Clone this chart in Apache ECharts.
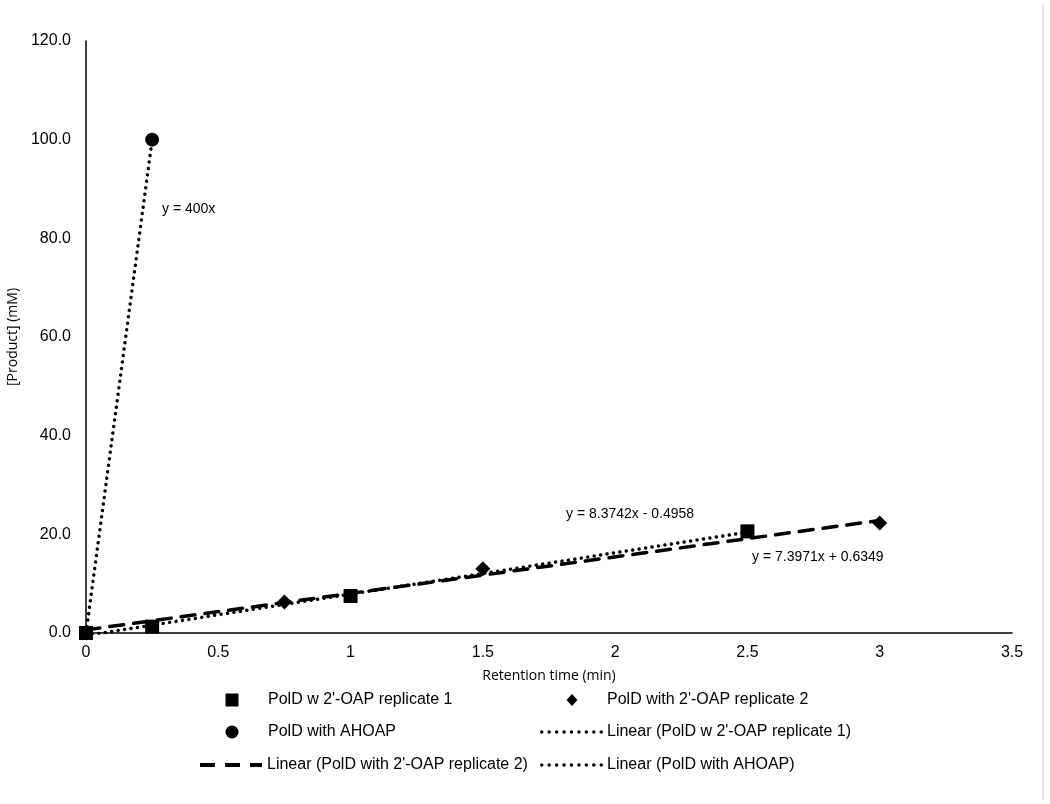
<!DOCTYPE html>
<html>
<head>
<meta charset="utf-8">
<script src="https://cdn.jsdelivr.net/npm/echarts@6/dist/echarts.min.js"></script>
<style>
  html, body { margin: 0; padding: 0; background: #fff; }
  #chart { width: 1050px; height: 804px; }
</style>
</head>
<body>
<div id="chart"></div>
<script>
// data
const rep1Points = [[0, 0], [0.25, 1.3], [1, 7.5], [2.5, 20.6]]
const rep2Points = [[0, 0], [0.75, 6.3], [1.5, 13.0], [3, 22.3]]
const ahoapPoints = [[0, 0], [0.25, 100]]

// trendline coefficients [slope, intercept] and x range
const rep1Fit = [8.3742, -0.4958]
const rep2Fit = [7.3971, 0.6349]
const ahoapFit = [400, 0]
const rep1Range = [0, 2.5]
const rep2Range = [0, 3]
const ahoapRange = [0, 0.25]

const seriesNames = [
  'PolD w 2\'-OAP replicate 1',
  'PolD with 2\'-OAP replicate 2',
  'PolD with AHOAP',
  'Linear (PolD w 2\'-OAP replicate 1)',
  'Linear (PolD with 2\'-OAP replicate 2)',
  'Linear (PolD with AHOAP)'
]
const equations = ['y = 8.3742x - 0.4958', 'y = 7.3971x + 0.6349', 'y = 400x']

const fitLine = (fit, range) => range.map(x => [x, fit[0] * x + fit[1]])

const font = 'Liberation Sans, Arial, sans-serif'
const nameFont = '"Open Sans", sans-serif'
const dotted = [0.01, 6.5]
const dashed = [14, 10]

// legend icons for the trendlines
let dots = ''
for (let i = 0; i < 9; i++) {
  const cx = 1.75 + i * 7.44
  dots += 'M' + (cx - 1.75) + ',2 a1.75,1.75 0 1,0 3.5,0 a1.75,1.75 0 1,0 -3.5,0 '
}
const dotIcon = 'path://' + dots
const dashIcon = 'path://M0,0 h15 v4 h-15 Z M25,0 h15 v4 h-15 Z M50,0 h12 v4 h-12 Z'

const chart = echarts.init(document.getElementById('chart'))

const lineSeries = (name, data, type, width) => ({
  name,
  type: 'line',
  data,
  symbol: 'none',
  z: 2,
  lineStyle: { color: '#000', width, type, cap: 'round' },
  itemStyle: { color: '#000' }
})

const scatterSeries = (name, data, symbol, size) => ({
  name,
  type: 'scatter',
  data,
  symbol,
  symbolSize: size,
  z: 3,
  itemStyle: { color: '#000', opacity: 1 }
})

// one legend per entry so each icon can have its own size
const legendItem = (name, left, top, w, h, pad, icon) => ({
  left,
  top,
  itemWidth: w,
  itemHeight: h,
  icon,
  selectedMode: false,
  padding: 0,
  textStyle: { fontFamily: font, fontSize: 16, color: '#000', padding: [0, 0, 0, pad] },
  data: [{ name, itemStyle: { color: '#000', opacity: 1 } }]
})

chart.setOption({
  animation: false,
  backgroundColor: '#fff',
  grid: { left: 86, right: 38, top: 41, bottom: 171, containLabel: false, outerBoundsMode: 'none' },
  xAxis: {
    type: 'value',
    min: 0,
    max: 3.5,
    interval: 0.5,
    name: 'Retention time (min)',
    nameLocation: 'middle',
    nameGap: 36,
    nameTextStyle: { fontFamily: nameFont, fontSize: 14, color: '#000' },
    axisLine: { lineStyle: { color: '#000', width: 1.5 } },
    axisTick: { show: false },
    splitLine: { show: false },
    axisLabel: { fontFamily: font, fontSize: 16, color: '#000', margin: 12 }
  },
  yAxis: {
    type: 'value',
    min: 0,
    max: 120,
    interval: 20,
    name: '[Product] (mM)',
    nameLocation: 'middle',
    nameGap: 41,
    nameTextStyle: { fontFamily: nameFont, fontSize: 14, color: '#000' },
    axisLine: { show: true, lineStyle: { color: '#000', width: 1.5 } },
    axisTick: { show: false },
    splitLine: { show: false },
    axisLabel: {
      fontFamily: font, fontSize: 16, color: '#000', margin: 15,
      formatter: v => v.toFixed(1)
    }
  },
  legend: [
    legendItem(seriesNames[0], 225.5, 692, 13, 13, 24.5, 'rect'),
    legendItem(seriesNames[1], 566.5, 692, 11, 12, 24.5, 'diamond'),
    legendItem(seriesNames[2], 225.5, 724, 13, 13, 24.5, 'circle'),
    legendItem(seriesNames[3], 540, 724, 63, 4, -1, dotIcon),
    legendItem(seriesNames[4], 200, 757, 62, 4, 0, dashIcon),
    legendItem(seriesNames[5], 540, 757, 63, 4, -1, dotIcon)
  ],
  graphic: [
    { type: 'text', left: 566, top: 507, style: { text: equations[0], font: '14px ' + font, fill: '#000' } },
    { type: 'text', left: 752, top: 550, style: { text: equations[1], font: '14px ' + font, fill: '#000' } },
    { type: 'text', left: 162, top: 202, style: { text: equations[2], font: '14px ' + font, fill: '#000' } },
    { type: 'rect', left: 1042, top: 4, shape: { width: 2, height: 796 }, style: { fill: '#e6e6e6' } }
  ],
  series: [
    lineSeries(seriesNames[3], fitLine(rep1Fit, rep1Range), dotted, 3.5),
    lineSeries(seriesNames[4], fitLine(rep2Fit, rep2Range), dashed, 3.5),
    lineSeries(seriesNames[5], fitLine(ahoapFit, ahoapRange), dotted, 3.5),
    scatterSeries(seriesNames[0], rep1Points, 'rect', 14),
    scatterSeries(seriesNames[1], rep2Points, 'diamond', 15),
    scatterSeries(seriesNames[2], ahoapPoints, 'circle', 14)
  ]
})
</script>
</body>
</html>
